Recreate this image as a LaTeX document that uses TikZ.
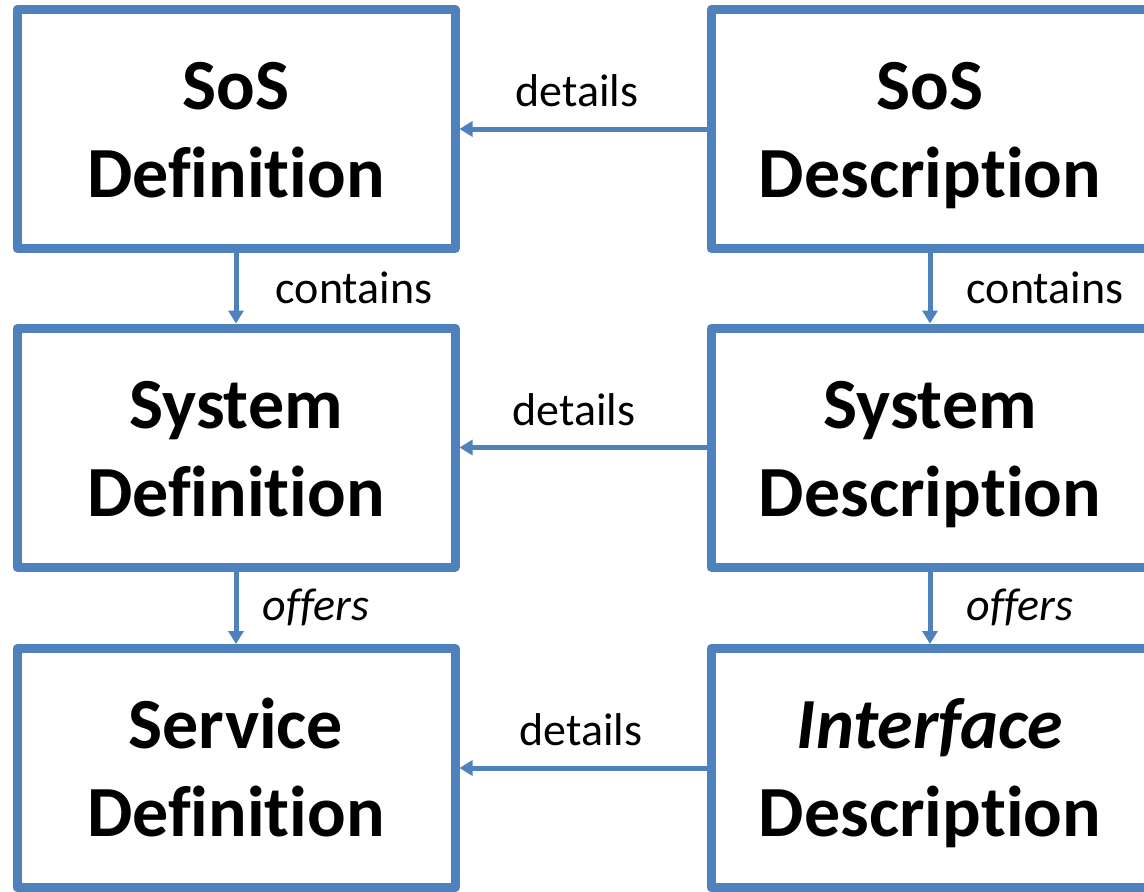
\documentclass[tikz,border=0pt]{standalone}
\usepackage{fontspec}
\setmainfont[Ligatures={NoCommon,NoContextual}]{Carlito}
\usetikzlibrary{arrows.meta}
\usetikzlibrary{shadows}
\definecolor{docblue}{RGB}{79,129,189}
\newcommand{\coldistance}{694}
\newcommand{\boxtext}[2]{\rule{0pt}{69pt}#1\\#2\rule[-20pt]{0pt}{20pt}}
\tikzstyle{doc}=[
  draw=docblue,
  fill=white,
  line width=9pt,
  line join=round,
  minimum width=438pt,
  minimum height=239pt,
  align=center,
  font=\fontsize{72}{88}\selectfont\bfseries,
  drop shadow={shadow xshift=2pt, shadow yshift=-3pt, opacity=0.25}
]
\tikzstyle{op}=[
  -{Triangle[length=13pt, width=15pt]},
  draw=docblue,
  line width=5pt
]
\tikzstyle{rel}=[
  font=\fontsize{46}{56}\selectfont,
  text=black
]
\begin{document}
\begin{tikzpicture}[x=1pt, y=-1pt]
  \useasboundingbox (0,0) rectangle (1144,892);
  \clip (0,0) rectangle (1144,892);

  \node[doc] (sosdef)  at (236,              129)   {\boxtext{SoS}{Definition}};
  \node[doc] (sysdef)  at (236,              447.5) {\boxtext{System}{Definition}};
  \node[doc] (srvdef)  at (236,              768)   {\boxtext{Service}{Definition}};
  \node[doc] (sosdesc) at (236+\coldistance, 129)   {\boxtext{SoS}{Description}};
  \node[doc] (sysdesc) at (236+\coldistance, 447.5) {\boxtext{System}{Description}};
  \node[doc] (ifdesc)  at (236+\coldistance, 768)   {\boxtext{\itshape Interface}{Description}};

  \draw[op] (sosdef) -- (sysdef) node[rel, midway, right=34pt] {contains};
  \draw[op] (sysdef) -- (srvdef) node[rel, midway, right=21pt] {\itshape offers};
  \draw[op] (sosdesc) -- (sysdesc) node[rel, midway, right=31pt] {contains};
  \draw[op] (sysdesc) -- (ifdesc) node[rel, midway, right=31pt] {\itshape offers};

  \draw[op] (sosdesc) -- (sosdef) node[rel, midway, above=16pt, xshift=-6pt] {details};
  \draw[op] (sysdesc) -- (sysdef) node[rel, midway, above=16pt, xshift=-9pt] {details};
  \draw[op] (ifdesc) -- (srvdef) node[rel, midway, above=16pt, xshift=-2pt] {details};
\end{tikzpicture}
\end{document}
